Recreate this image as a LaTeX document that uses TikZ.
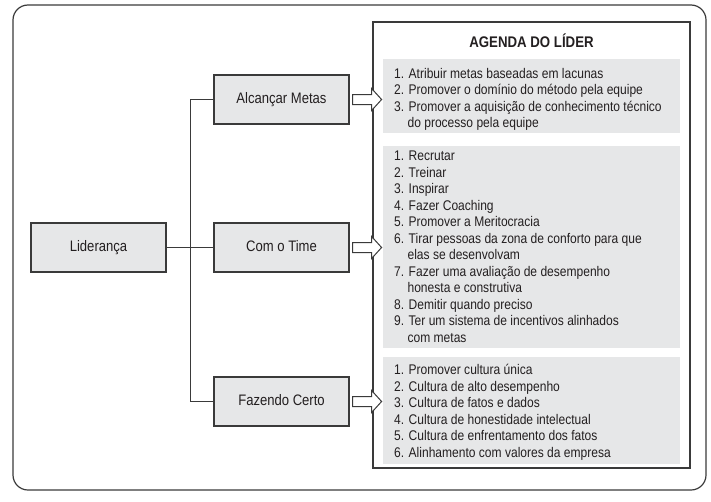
\documentclass[tikz,border=0pt]{standalone}
\usepackage{fontspec}
\setmainfont[FakeStretch=0.86]{Liberation Sans}
\definecolor{boxgray}{HTML}{E6E7E8}
\definecolor{linec}{HTML}{3A3A3A}
\definecolor{txt}{HTML}{231F20}
\begin{document}
\begin{tikzpicture}[x=1pt,y=-1pt,
  frame/.style={draw=linec,line width=1.2pt},
  box/.style={draw=linec,line width=1.2pt,fill=boxgray,minimum width=135pt,minimum height=49pt,inner sep=0pt,
    font=\fontsize{15.2}{18}\selectfont,text=txt,text height=11pt,text depth=3pt},
  panel/.style={fill=boxgray,minimum width=297pt,inner sep=0pt},
  item/.style={anchor=base west,inner sep=0pt,font=\fontsize{14}{16.5}\selectfont,text=txt},
  conn/.style={draw=linec,line width=1pt},
  barrow/.style={draw=linec,line width=1pt,fill=white,line join=miter}]
\useasboundingbox (0,0) rectangle (711,501);
\draw[frame,rounded corners=15pt] (13,5) rectangle (706,490);
% left boxes
\node[box] (lid) at (98.5,247.5) {Liderança};
\node[box] (am) at (281.5,99.5) {Alcançar Metas};
\node[box] (ct) at (281.5,247.5) {Com o Time};
\node[box] (fc) at (281.5,401.5) {Fazendo Certo};
\coordinate (bus) at (190,0);
\draw[conn] (lid.east) -- (ct.west);
\draw[conn] (am.west) -- (am.west -| bus) -- (fc.west -| bus) -- (fc.west);
% agenda
\node[frame,minimum width=317pt,minimum height=446pt,inner sep=0pt] (ag) at (531.5,245) {};
\node[anchor=base,inner sep=0pt,font=\fontsize{15.4}{18}\selectfont\bfseries,text=txt] (title) at (531.5,47) {AGENDA DO LÍDER};
\node[panel,minimum height=74pt] (p1) at (531.5,96.3) {};
\node[panel,minimum height=202.3pt] (p2) at (531.5,247.2) {};
\node[panel,minimum height=107pt] (p3) at (531.5,410.8) {};
\foreach \t [count=\i from 0] in {1. Atribuir metas baseadas em lacunas,
  2. Promover o domínio do método pela equipe,
  3. Promover a aquisição de conhecimento técnico,
  \hspace*{13.4pt}do processo pela equipe}
  \node[item] (a\i) at (394,{78+16.5*\i}) {\t};
\foreach \t [count=\i from 0] in {1. Recrutar, 2. Treinar, 3. Inspirar, 4. Fazer Coaching,
  5. Promover a Meritocracia,
  6. Tirar pessoas da zona de conforto para que,
  \hspace*{13.4pt}elas se desenvolvam,
  7. Fazer uma avaliação de desempenho,
  \hspace*{13.4pt}honesta e construtiva,
  8. Demitir quando preciso,
  9. Ter um sistema de incentivos alinhados,
  \hspace*{13.4pt}com metas}
  \node[item] (b\i) at (394,{160.5+16.5*\i}) {\t};
\foreach \t [count=\i from 0] in {1. Promover cultura única,
  2. Cultura de alto desempenho,
  3. Cultura de fatos e dados,
  4. Cultura de honestidade intelectual,
  5. Cultura de enfrentamento dos fatos,
  6. Alinhamento com valores da empresa}
  \node[item] (c\i) at (394,{374.5+16.5*\i}) {\t};
% block arrows
\foreach \n in {am,ct,fc}
  \draw[barrow] ([xshift=3pt]\n.east) -- ++(0,-5) -- ++(19,0) -- ++(0,-6) -- ++(10,11)
     -- ++(-10,11) -- ++(0,-6) -- ++(-19,0) -- cycle;
\end{tikzpicture}
\end{document}
